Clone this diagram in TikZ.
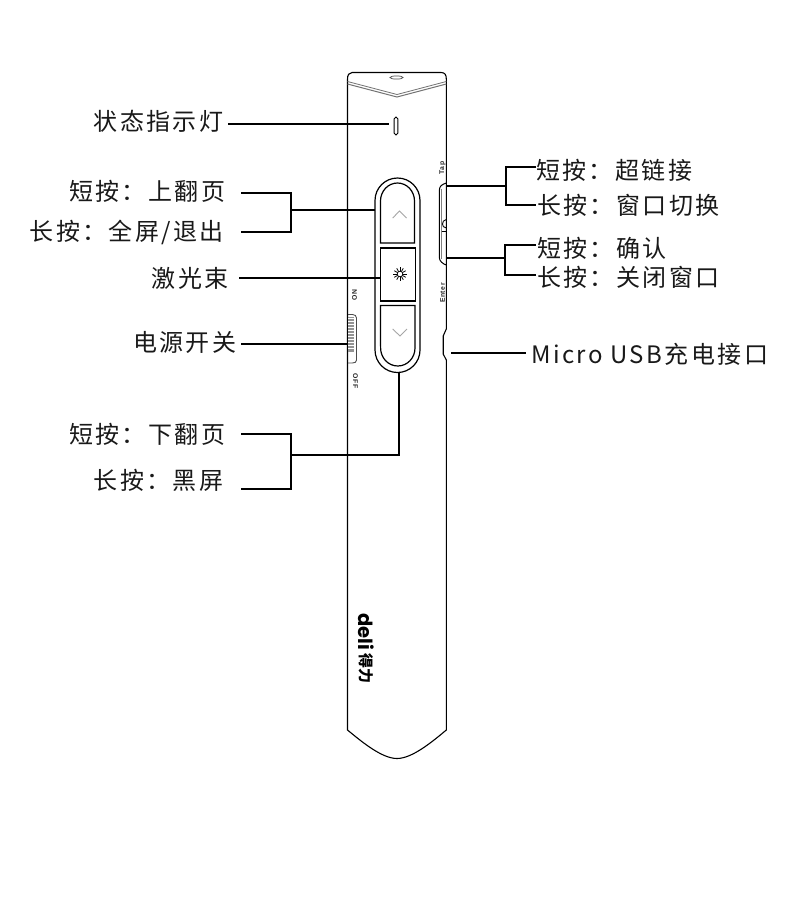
\documentclass[tikz,border=0pt]{standalone}
\usepackage{fontspec}
\newfontfamily\cjk[LetterSpace=10]{Noto Sans CJK SC}
\newfontfamily\cjklogo{Noto Sans CJK SC}
\newfontfamily\plain[LetterSpace=8]{Liberation Sans}
\newfontfamily\logofont{Poppins}
\tikzset{
  body/.style={draw=black,line width=1.1pt,fill=white},
  part/.style={draw=black,line width=1.2pt},
  leader/.style={draw=black,line width=1.8pt},
  chev/.style={draw=black!35,line width=0.9pt},
  label/.style={font=\cjk\fontsize{24}{26}\selectfont,inner sep=0pt,text=black!90,text height=21pt,text depth=3pt},
  tiny/.style={font=\plain\bfseries\fontsize{6.8}{7}\selectfont,inner sep=0pt,text=black!85},
}
\begin{document}
\begin{tikzpicture}[x=1pt,y=-1pt]
\useasboundingbox (0,0) rectangle (790,908);
\fill[white] (0,0) rectangle (790,908);
% pen body
\draw[body] (352,72.5) -- (441,72.5) .. controls (445,72.5) and (446.3,75) .. (446.3,79)
  -- (446.3,329) -- (443.2,336) -- (443.2,354) -- (446.3,360) -- (446.3,730)
  .. controls (432,742) and (412,758.5) .. (397,758.5)
  .. controls (382,758.5) and (362,742) .. (347.5,730)
  -- (347.5,79) .. controls (347.5,75) and (349,72.5) .. (352,72.5) -- cycle;
\draw[black!55,line width=0.8pt] (347.5,81.5) -- (397,94.5) -- (446.3,81.5);
\draw[black!55,line width=1pt] (347.5,84) -- (397,97) -- (446.3,84);
\draw[black!70,line width=0.7pt] (396.5,77.5) ellipse (6.5 and 1.6);
\node[draw=black,line width=1pt,rounded corners=1.8pt,minimum width=3.6pt,minimum height=18pt,inner sep=0pt] (led) at (396,126) {};
% buttons
\draw[part] (375,200.5) arc[start angle=180,end angle=360,radius=22.5] -- (420,350) arc[start angle=0,end angle=180,radius=22.5] -- cycle;
\coordinate (capL) at (375,210);
\coordinate (capB) at (399,372.5);
\draw[part] (380.5,243) -- (380.5,201) arc[start angle=180,end angle=360,x radius=17,y radius=18] -- (414.5,243) -- cycle;
\node[draw=black,line width=1.2pt,minimum width=35pt,minimum height=53pt,inner sep=0pt] (laser) at (398,274.5) {};
\draw[part] (380.5,305.5) -- (415,305.5) -- (415,348) arc[start angle=0,end angle=180,x radius=17.2,y radius=18] -- cycle;
\draw[chev] (392.7,218) -- (399.5,211) -- (406.5,218);
\draw[chev] (392.7,329) -- (400,336) -- (407,329);
% star
\foreach \a in {0,30,...,330}
  \draw[black,line width=0.8pt] (400,274) ++(\a:2.8) -- ++(\a:3.8);
\draw[black,line width=0.7pt] (400,274) circle (2.8);
% side buttons
\draw[black,line width=1pt] (446.3,183) .. controls (442,184.5) and (439.4,186) .. (439.4,190) -- (439.4,258)
  .. controls (439.4,261) and (443,264) .. (446.3,265);
\draw[black!50,line width=0.7pt] (441.5,189) -- (441.5,259);
\draw[black,line width=0.9pt] (446.3,219.5) .. controls (443.5,220) and (442.5,222) .. (442.5,224) .. controls (442.5,226) and (443.5,227.5) .. (446.3,228);
\draw[black,line width=0.9pt] (441.5,231) -- (446.3,231);
\coordinate (tapR) at (446.3,186);
\coordinate (entR) at (446.3,258);
% switch
\draw[draw=black!70,line width=0.9pt] (348,314.5) -- (352.5,314.5) .. controls (355,314.5) and (356.5,316) .. (356.5,318) -- (356.5,360) .. controls (356.5,362) and (355,363) .. (352.5,363) -- (348,363);
\fill[black!42] (348,317) rectangle (354,352);
\foreach \y in {318,321,...,350}
  \draw[white,line width=0.5pt] (348,\y+.5) -- (354,\y+.5);
\coordinate (swL) at (348,344);
\node[tiny,rotate=90] (on) at (354.5,295) {ON};
\node[tiny,rotate=-90] (off) at (355.5,381) {OFF};
\node[tiny,rotate=90] (tap) at (442.5,168) {Tap};
\node[tiny,rotate=90] (enter) at (442.5,293) {Enter};
% logo
\node[rotate=-90,inner sep=0pt,font=\logofont\bfseries\fontsize{19.5}{20}\selectfont] (deli) at (366,632) {deli};
\node[rotate=-90,inner sep=0pt,font=\cjklogo\bfseries\fontsize{15}{16}\selectfont] (deliz) at (366,668.5) {得力};
% labels
\node[label,anchor=west] (zt) at (93.5,121) {状态指示灯};
\coordinate (ztE) at (228,124);
\draw[leader] (ztE) -- (389,124);
\node[label,anchor=west] (l1) at (69,191) {短按：上翻页};
\node[label,anchor=west] (l2) at (29.5,231) {长按：全屏/退出};
\coordinate (a1) at (241,193); \coordinate (a2) at (241,232);
\draw[leader] (a1) -- (291,193) -- (291,232) -- (a2);
\draw[leader] (291,210) -- (capL);
\node[label,anchor=west] (l3) at (151.5,278) {激光束};
\draw[leader] (239,278) -- (laser.west |- 0,278);
\node[label,anchor=west] (l4) at (133,342) {电源开关};
\draw[leader] (241,344) -- (swL);
\node[label,anchor=west] (l5) at (69,434) {短按：下翻页};
\node[label,anchor=west] (l6) at (93.5,480) {长按：黑屏};
\coordinate (b1) at (241,434); \coordinate (b2) at (241,489);
\draw[leader] (b1) -- (291,434) -- (291,489) -- (b2);
\draw[leader] (291,455) -- (399,455) -- (capB);
\node[label,anchor=west] (r1) at (536,170) {短按：超链接};
\node[label,anchor=west] (r2) at (537,205) {长按：窗口切换};
\draw[leader] (tapR) -- (506,186);
\draw[leader] (536,167) -- (506,167) -- (506,205) -- (536,205);
\node[label,anchor=west] (r3) at (537,248) {短按：确认};
\node[label,anchor=west] (r4) at (537,277) {长按：关闭窗口};
\draw[leader] (entR) -- (505,258);
\draw[leader] (536,245) -- (505,245) -- (505,275) -- (536,275);
\node[label,anchor=west] (r5) at (531,354) {Micro USB充电接口};
\draw[leader] (451,353) -- (526,353);
\end{tikzpicture}
\end{document}
